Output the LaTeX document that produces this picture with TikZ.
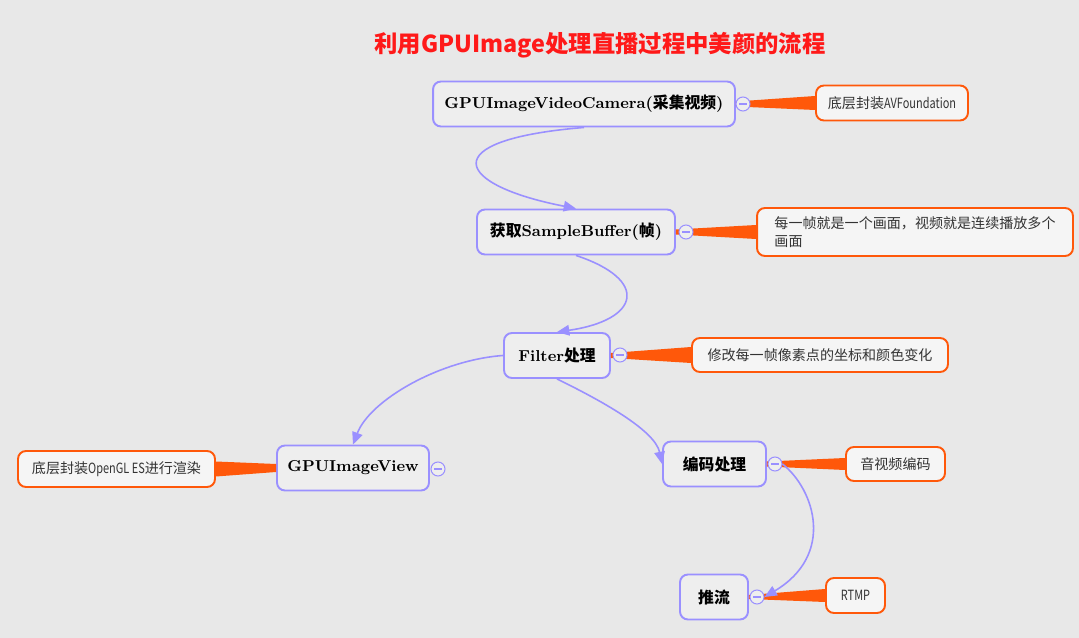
\documentclass[tikz,border=0pt]{standalone}
\usepackage{fontspec}
\usetikzlibrary{arrows.meta,calc}
\newfontfamily\cjk{Noto Sans CJK SC}
\newfontfamily\narrow{Noto Sans CJK SC}[FakeStretch=0.78]
\definecolor{flowpurple}{RGB}{154,144,255}
\definecolor{noteorange}{RGB}{255,88,10}
\definecolor{paper}{RGB}{232,232,232}
\definecolor{boxgrey}{RGB}{238,238,238}
\definecolor{titlered}{RGB}{255,25,25}
\newcommand{\zh}[1]{{\cjk\bfseries #1}}
\newcommand{\la}[1]{{\narrow #1}}
\begin{document}
\begin{tikzpicture}[x=0.02cm,y=0.02cm,
  stepbox/.style={draw=flowpurple,line width=1.1pt,fill=boxgrey,rounded corners=4.5pt,
    minimum height=0.9cm,inner sep=0pt,font=\bfseries\fontsize{9}{11}\selectfont},
  notebox/.style={draw=noteorange,line width=1.1pt,fill=boxgrey!60!white,rounded corners=4.5pt,
    inner sep=0pt,font=\cjk\fontsize{8}{10}\selectfont,text=black!80},
  fold/.style={circle,draw=flowpurple,line width=0.6pt,fill=boxgrey,minimum size=0.28cm,inner sep=0pt,
    path picture={\draw[flowpurple,line width=0.6pt] ([xshift=1.8pt]path picture bounding box.west)
      -- ([xshift=-1.8pt]path picture bounding box.east);}},
  flow/.style={draw=flowpurple,line width=0.9pt,-{Triangle[length=7pt,width=6pt]}},
  wedge/.style={fill=noteorange}]
  \fill[paper] (0,0) rectangle (1079,-638);
  \node[font=\cjk\bfseries\fontsize{13.3}{16}\selectfont,text=titlered] (title) at (600,-45)
    {利用GPUImage处理直播过程中美颜的流程};

  \node[stepbox,minimum width=6.04cm] (cam) at (584,-104) {GPUImageVideoCamera(\zh{采集视频})};
  \node[notebox,minimum width=3.04cm,minimum height=0.7cm] (camn) at (892,-103) {底层封装\la{AVFoundation}};

  \node[stepbox,minimum width=3.96cm] (sb) at (576,-232) {\zh{获取}SampleBuffer(\zh{帧})};
  \node[notebox,minimum width=6.32cm,minimum height=0.96cm,align=left] (sbn) at (915,-232)
    {每一帧就是一个画面，视频就是连续播放多个\\画面};

  \node[stepbox,minimum width=2.12cm] (fil) at (557,-355.5) {Filter\zh{处理}};
  \node[notebox,minimum width=5.12cm,minimum height=0.68cm] (filn) at (820,-355) {修改每一帧像素点的坐标和颜色变化};

  \node[stepbox,minimum width=3.04cm] (view) at (353,-468) {GPUImageView};
  \node[notebox,minimum width=3.94cm,minimum height=0.72cm] (viewn) at (116.5,-469) {底层封装\la{OpenGL ES}进行渲染};

  \node[stepbox,minimum width=2.06cm] (enc) at (714.5,-464) {\zh{编码处理}};
  \node[notebox,minimum width=1.98cm,minimum height=0.68cm] (encn) at (895.5,-464) {音视频编码};

  \node[stepbox,minimum width=1.36cm] (push) at (714,-597) {\zh{推流}};
  \node[notebox,minimum width=1.18cm,minimum height=0.7cm] (pushn) at (855.5,-595.5) {\la{RTMP}};

  \fill[wedge] ($(cam.east)+(0,2.5)$) -- ($(camn.west)+(0,7)$) -- ($(camn.west)+(0,-7)$) -- ($(cam.east)+(0,-2.5)$) -- cycle;
  \fill[wedge] ($(sb.east)+(0,2.5)$) -- ($(sbn.west)+(0,7)$) -- ($(sbn.west)+(0,-7)$) -- ($(sb.east)+(0,-2.5)$) -- cycle;
  \fill[wedge] ($(fil.east)+(0,2.5)$) -- ($(filn.west)+(0,8)$) -- ($(filn.west)+(0,-8)$) -- ($(fil.east)+(0,-2.5)$) -- cycle;
  \fill[wedge] ($(view.west)+(0,4)$) -- ($(viewn.east)+(0,7.5)$) -- ($(viewn.east)+(0,-7.5)$) -- ($(view.west)+(0,-4)$) -- cycle;
  \fill[wedge] ($(enc.east)+(0,2.5)$) -- ($(encn.west)+(0,6)$) -- ($(encn.west)+(0,-6)$) -- ($(enc.east)+(0,-2.5)$) -- cycle;
  \fill[wedge] ($(push.east)+(0,2)$) -- ($(pushn.west)+(0,6.5)$) -- ($(pushn.west)+(0,-6.5)$) -- ($(push.east)+(0,-2)$) -- cycle;

  \node[fold] (camc) at (743,-104) {};
  \node[fold] (sbc) at (686,-232) {};
  \node[fold] (filc) at (620,-355) {};
  \node[fold] (viewc) at (438,-469) {};
  \node[fold] (encc) at (775,-464) {};
  \node[fold] (pushc) at (757,-597) {};

  \draw[flow] (cam.south) .. controls (432,-140) and (455,-185) .. (sb.north);
  \draw[flow] (sb.south) .. controls (650,-280) and (640,-320) .. (fil.north);
  \draw[flow] (fil.west) .. controls (440,-360) and (370,-400) .. (view.north);
  \draw[flow] (fil.south) .. controls (600,-400) and (655,-430) .. (enc.west);
  \draw[flow] (encc.east) .. controls (815,-490) and (835,-555) .. (pushc.east);
\end{tikzpicture}
\end{document}
